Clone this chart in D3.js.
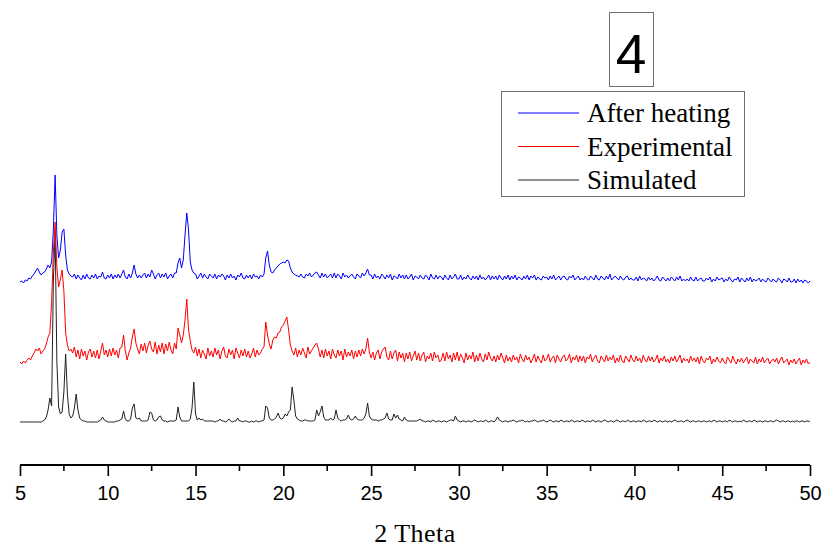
<!DOCTYPE html>
<html>
<head>
<meta charset="utf-8">
<script src="https://cdn.jsdelivr.net/npm/d3@7"></script>
<style>
  body { margin: 0; background: white; }
  svg { display: block; }
</style>
</head>
<body>
<div id="chart-section"></div>
<script>
//Data (2theta from 5 to 50 in 0.1 steps)---------------------------------
var thetaStart = 5;
var thetaStep = 0.1;

var seriesNames = ["After heating", "Experimental", "Simulated"];

var simulated = [
  0,0,0,0,0,0,0,0,0,0,
  0,0,0,1,2,5,12,24,16,140,
  190,60,15,8,10,30,68,28,8,4,
  6,14,28,12,4,2,1,1,0,0,
  0,0,0,0,0,1,2,5,2,1,
  0,0,0,0,0,1,1,2,3,11,
  3,1,1,3,14,18,4,3,4,1,
  1,1,1,2,10,9,2,1,2,5,
  6,2,1,1,0,1,1,1,1,2,
  15,5,1,1,1,1,1,3,14,40,
  8,2,4,2,3,1,1,1,1,1,
  1,0,1,1,3,1,1,0,1,3,
  1,0,1,1,4,1,1,0,1,1,
  0,0,1,0,1,1,0,1,1,2,
  16,14,4,2,2,3,5,9,4,3,
  4,8,6,10,12,35,22,6,3,2,
  1,1,2,2,1,1,1,1,2,12,
  6,10,16,5,2,2,2,4,2,3,
  12,4,2,1,2,2,3,7,3,2,
  3,6,3,2,2,2,4,8,19,6,
  3,2,2,2,1,2,2,3,4,9,
  3,2,2,8,4,7,3,2,1,5,
  2,1,1,1,1,1,1,2,3,1,
  1,0,1,1,0,2,1,0,1,1,
  0,1,1,0,1,2,2,1,6,2,
  1,0,1,1,0,1,1,0,1,2,
  1,0,1,1,0,2,1,0,1,1,
  0,2,5,2,1,0,1,1,0,1,
  1,2,1,0,1,1,2,1,0,1,
  0,1,1,2,1,0,1,1,2,1,
  0,1,2,1,0,1,1,0,2,1,
  0,1,1,0,2,1,0,1,1,0,
  2,1,0,1,1,0,2,1,0,1,
  1,0,1,2,1,0,1,1,0,1,
  2,1,0,1,1,0,2,1,0,1,
  1,0,1,1,0,2,1,0,1,1,
  0,2,1,0,1,1,0,1,1,0,
  1,0,1,2,1,0,1,1,0,1,
  2,1,0,1,1,0,1,1,0,1,
  1,0,1,1,0,2,1,0,1,1,
  0,1,1,0,2,1,0,1,1,0,
  1,0,2,1,0,1,1,0,2,1,
  0,1,1,0,1,1,0,1,1,0,
  1,2,1,0,1,1,0,1,1,0,
  1,0,1,1,0,1,1,0,1,1,
  0
];

var experimental = [
  3,1,4,2,5,7,5,9,12,16,
  14,17,11,14,16,21,28,32,62,112,
  143,98,78,86,95,74,32,20,14,16,
  12,18,8,15,6,16,9,14,5,13,
  16,8,14,7,15,6,14,22,10,15,
  8,16,9,17,10,15,7,17,18,30,
  14,5,12,17,28,36,22,16,11,21,
  14,22,12,20,24,16,13,23,11,20,
  13,22,11,21,14,23,15,11,22,16,
  37,30,22,30,45,66,35,24,15,12,
  18,9,16,7,15,11,6,17,9,14,
  8,17,10,15,6,14,18,9,7,16,
  10,15,6,17,12,7,15,9,16,8,
  14,7,11,17,8,15,10,12,16,18,
  43,30,21,16,25,28,27,32,33,38,
  40,44,48,35,20,14,10,17,8,15,
  10,17,12,7,18,11,14,17,20,22,
  16,8,15,7,16,9,14,6,16,10,
  7,15,9,14,5,16,8,13,9,15,
  6,14,8,15,9,16,11,16,27,13,
  7,13,5,12,15,6,13,16,18,8,
  5,14,6,12,15,4,13,7,12,3,
  12,6,13,4,9,14,5,12,4,10,
  13,3,9,6,12,4,13,7,10,3,
  5,12,4,13,6,10,3,12,5,13,
  4,11,7,2,12,5,10,6,13,3,
  10,4,12,6,3,11,5,13,7,4,
  9,3,10,5,12,7,2,10,4,8,
  3,10,5,8,2,11,6,3,10,5,
  8,2,6,11,3,9,5,2,10,4,
  6,11,3,7,9,2,10,6,3,8,
  10,4,6,11,2,8,5,10,3,9,
  4,9,2,8,6,11,3,7,10,4,
  2,9,6,3,10,4,8,5,10,2,
  7,3,10,4,2,9,6,3,10,5,
  3,9,4,7,2,10,5,3,9,4,
  8,3,5,10,2,7,4,9,3,6,
  2,8,4,9,3,6,10,2,7,4,
  6,2,9,4,7,3,8,1,9,4,
  2,7,5,9,1,6,3,8,4,2,
  7,3,1,8,5,2,9,4,1,6,
  3,7,2,5,8,1,6,4,2,8,
  1,6,3,8,2,5,7,1,4,6,
  3,7,1,5,8,2,4,6,0,5,
  2,6,1,4,7,0,5,2,6,1,
  3
];

var afterHeating = [
  3,4,2,5,4,7,6,9,11,14,
  17,13,10,12,13,16,20,17,23,55,
  110,50,27,35,53,56,30,15,11,9,
  8,11,6,10,7,5,10,6,11,7,
  6,10,7,11,6,9,8,13,7,6,
  10,7,11,6,10,7,11,7,11,15,
  8,6,11,7,12,20,11,7,10,7,
  10,12,7,11,8,15,11,6,10,12,
  7,11,8,12,6,9,11,7,12,12,
  22,27,17,25,50,72,55,23,15,12,
  11,6,9,12,7,11,8,6,11,9,
  7,11,6,10,8,11,9,5,10,7,
  11,7,9,5,10,8,12,7,6,10,
  7,10,6,11,8,9,6,10,8,11,
  27,34,20,13,12,15,17,19,21,22,
  23,22,25,24,17,13,11,10,9,8,
  11,8,7,11,9,12,8,10,12,13,
  10,7,12,8,11,7,9,11,7,12,
  7,11,9,6,12,8,10,7,9,11,
  8,6,11,9,7,12,9,12,16,10,
  10,6,11,7,9,6,11,9,6,10,
  7,11,5,9,8,6,11,7,10,6,
  10,6,8,11,5,9,8,6,10,7,
  6,10,8,5,11,7,6,10,6,9,
  8,5,10,7,5,10,6,8,11,6,
  6,10,5,8,6,10,7,5,9,6,
  9,5,10,6,8,5,7,10,5,9,
  6,9,5,10,7,5,9,6,10,5,
  9,6,10,5,8,7,5,9,6,10,
  5,9,7,10,5,8,6,5,9,7,
  8,5,9,6,10,5,7,9,5,8,
  9,6,5,9,7,10,5,7,9,5,
  7,5,9,6,5,9,7,5,10,6,
  5,9,7,5,9,6,11,5,7,9,
  7,5,9,6,5,8,9,5,7,5,
  5,8,4,9,5,7,6,4,8,5,
  7,4,6,9,5,4,8,6,4,7,
  4,8,6,4,8,5,9,4,6,4,
  6,4,8,5,4,8,4,6,7,4,
  4,7,5,8,3,6,4,8,5,6,
  7,3,6,4,8,5,3,6,5,8,
  3,7,5,3,7,4,8,3,6,4,
  5,7,3,6,4,3,7,5,3,6,
  4,3,7,5,2,6,5,3,7,3,
  3,6,2,6,3,5,2,5,4,2,
  4
];

var xTickValues = [5, 10, 15, 20, 25, 30, 35, 40, 45, 50];
var xMinorTicks = [7.5, 12.5, 17.5, 22.5, 27.5, 32.5, 37.5, 42.5, 47.5];
var xLabel = "2 Theta";
var panelLabel = "4";
//-----------------------------------------------------------------------

//Global GraphSettings---------------------------------------------------
var svgScreen = { width: 825, height: 549 };
var axisY = 465;

// where each pattern sits (stacked offsets)
var seriesList = [
  { name: seriesNames[0], values: afterHeating, offset: 180, color: "#0000ff" },
  { name: seriesNames[1], values: experimental, offset: 100, color: "#ff0000" },
  { name: seriesNames[2], values: simulated, offset: 43, color: "#222222" }
];

var xScale = d3.scaleLinear().domain([5, 50]).range([20, 810]);
var yScale = d3.scaleLinear().domain([0, 300]).range([axisY, axisY - 300]);
//-----------------------------------------------------------------------

var svg = d3.select("#chart-section")
  .append("svg")
  .attr("width", svgScreen.width)
  .attr("height", svgScreen.height);

svg.append("rect")
  .attr("width", svgScreen.width)
  .attr("height", svgScreen.height)
  .attr("fill", "white");

// patterns, simulated first so experimental sits on top like the original
var line = d3.line()
  .x(function(d, i){ return xScale(thetaStart + i * thetaStep); })
  .y(function(d){ return yScale(d); });

var lineGroup = svg.append("g").attr("class", "patterns");
seriesList.slice().reverse().forEach(function(s){
  lineGroup.append("path")
    .datum(s.values.map(function(v){ return v + s.offset; }))
    .attr("fill", "none")
    .attr("stroke", s.color)
    .attr("stroke-width", 1)
    .attr("stroke-linejoin", "round")
    .attr("d", line);
});

// x axis
var xAxis = d3.axisBottom(xScale)
  .tickValues(xTickValues)
  .tickSize(11)
  .tickPadding(10)
  .tickFormat(d3.format("d"));

var gx = svg.append("g")
  .attr("class", "x-axis")
  .attr("transform", "translate(0," + axisY + ")")
  .call(xAxis);

gx.select(".domain").attr("stroke", "black").attr("stroke-width", 2)
  .attr("d", "M" + xScale(5) + ",0H" + xScale(50));
gx.selectAll(".tick line").attr("stroke", "black").attr("stroke-width", 1.6);
gx.selectAll(".tick text")
  .attr("fill", "black")
  .style("font-family", "'Liberation Sans', Arial, sans-serif")
  .style("font-size", "20px");

gx.selectAll(".minor")
  .data(xMinorTicks)
  .enter()
  .append("line")
  .attr("class", "minor")
  .attr("x1", function(d){ return xScale(d); })
  .attr("x2", function(d){ return xScale(d); })
  .attr("y1", 0)
  .attr("y2", 6)
  .attr("stroke", "black")
  .attr("stroke-width", 1.6);

svg.append("text")
  .attr("x", (xScale(5) + xScale(50)) / 2)
  .attr("y", 542)
  .attr("text-anchor", "middle")
  .style("font-family", "'Liberation Serif', 'Times New Roman', serif")
  .style("font-size", "26px")
  .style("letter-spacing", "0.5px")
  .text(xLabel);

// panel number box
svg.append("rect")
  .attr("x", 609.5).attr("y", 12.5)
  .attr("width", 44).attr("height", 74)
  .attr("fill", "white")
  .attr("stroke", "#707070");

svg.append("text")
  .attr("x", 631)
  .attr("y", 73)
  .attr("text-anchor", "middle")
  .style("font-family", "'Liberation Sans', Arial, sans-serif")
  .style("font-size", "55px")
  .text(panelLabel);

// legend
var legend = svg.append("g").attr("class", "legend");
legend.append("rect")
  .attr("x", 501.5).attr("y", 91.5)
  .attr("width", 243).attr("height", 105)
  .attr("fill", "white")
  .attr("stroke", "#707070");

seriesList.forEach(function(s, i){
  var yy = 113 + i * 33.5;
  legend.append("line")
    .attr("x1", 518).attr("x2", 579)
    .attr("y1", yy).attr("y2", yy)
    .attr("stroke", s.color)
    .attr("stroke-width", 1);
  legend.append("text")
    .attr("x", 587)
    .attr("y", yy + 9)
    .style("font-family", "'Liberation Serif', 'Times New Roman', serif")
    .style("font-size", "27px")
    .text(s.name);
});
</script>
</body>
</html>
